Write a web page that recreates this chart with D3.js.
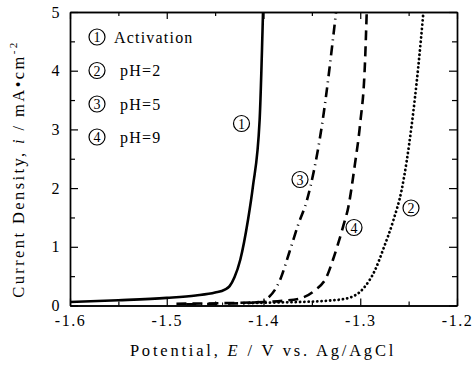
<!DOCTYPE html>
<html><head><meta charset="utf-8">
<script src="https://cdn.jsdelivr.net/npm/d3@7"></script>
<style>
body{margin:0;background:#fff;}
svg text{font-family:"Liberation Serif","Times New Roman",serif;fill:#000;}
</style></head>
<body><svg id="c" width="472" height="370"></svg>
<script>
// ---- data ----
const xTicks = [-1.6, -1.5, -1.4, -1.3, -1.2];
const xTickLabels = ["-1.6", "-1.5", "-1.4", "-1.3", "-1.2"];
const yTicks = [0, 1, 2, 3, 4, 5];
const yTickLabels = ["0", "1", "2", "3", "4", "5"];

const activationE = [-1.6, -1.55, -1.5, -1.47, -1.45, -1.44, -1.435, -1.43, -1.424, -1.416, -1.411, -1.404, -1.4005];
const activationI = [0.06, 0.09, 0.13, 0.17, 0.22, 0.27, 0.33, 0.48, 0.78, 1.46, 2.02, 3.16, 5.0];

const pH2E = [-1.42, -1.39, -1.3623, -1.335, -1.314, -1.2968, -1.2848, -1.2762, -1.2658, -1.2572, -1.2468, -1.24, -1.2347];
const pH2I = [0.04, 0.05, 0.06, 0.08, 0.12, 0.29, 0.60, 0.96, 1.45, 1.97, 3.08, 4.07, 5.0];

const pH5E = [-1.48, -1.44, -1.41, -1.40, -1.3953, -1.383, -1.3736, -1.3643, -1.355, -1.3396, -1.325];
const pH5I = [0.02, 0.03, 0.05, 0.08, 0.13, 0.43, 0.89, 1.37, 1.80, 3.07, 5.0];

const pH9E = [-1.49, -1.44, -1.40, -1.38, -1.3623, -1.3468, -1.3347, -1.3282, -1.3178, -1.3123, -1.3054, -1.3003, -1.295, -1.2933];
const pH9I = [0.03, 0.04, 0.06, 0.08, 0.12, 0.26, 0.49, 0.78, 1.34, 1.68, 2.42, 3.07, 4.18, 5.0];

const legendNums = ["1", "2", "3", "4"];
const legendTexts = ["Activation", "pH=2", "pH=5", "pH=9"];

// ---- layout ----
const SERIF = "Liberation Serif, Times New Roman, serif";
const svg = d3.select("#c");
const L = 70, R = 457, T = 12, B = 305.5;
const x = d3.scaleLinear().domain([-1.6, -1.2]).range([L, R]);
const y = d3.scaleLinear().domain([0, 5]).range([B, T]);

const series = [
  {E: activationE, I: activationI, dash: null, cap: "butt", w: 2.6},
  {E: pH2E, I: pH2I, dash: "0.1,4.2", cap: "round", w: 2.8},
  {E: pH5E, I: pH5I, dash: "10,5,1,5", cap: "butt", w: 2.6},
  {E: pH9E, I: pH9I, dash: "10,6", cap: "butt", w: 2.6}
];

svg.append("clipPath").attr("id","clip").append("rect")
  .attr("x", L).attr("y", T).attr("width", R-L).attr("height", B-T);

const line = d3.line().x(d=>x(d[0])).y(d=>y(d[1])).curve(d3.curveMonotoneX);
const g = svg.append("g").attr("clip-path","url(#clip)");
series.forEach(s=>{
  const pts = s.E.map((e,i)=>[e, s.I[i]]);
  g.append("path").attr("d", line(pts)).attr("fill","none").attr("stroke","#000")
    .attr("stroke-width", s.w).attr("stroke-linecap", s.cap)
    .attr("stroke-dasharray", s.dash);
});

// ---- axes ----
const minorX = d3.range(-1.6, -1.2001, 0.05).map(v=>+v.toFixed(3)).filter(v=>!xTicks.some(t=>Math.abs(t-v)<1e-6));
const minorY = [0.5,1.5,2.5,3.5,4.5];
const fontT = 16;

function styleAxis(sel){
  sel.attr("font-family", SERIF);
  sel.select(".domain").attr("stroke","#000").attr("stroke-width",1.4);
  sel.selectAll(".tick line").attr("stroke","#000").attr("stroke-width",1.2);
  sel.selectAll("text").attr("font-size", fontT).attr("letter-spacing","1.5px")
    .attr("font-family", SERIF);
}

const xb = svg.append("g").attr("transform",`translate(0,${B})`)
  .call(d3.axisBottom(x).tickValues(xTicks).tickFormat((d,i)=>xTickLabels[i]).tickSizeInner(-7).tickSizeOuter(0).tickPadding(9));
styleAxis(xb);
svg.append("g").attr("transform",`translate(0,${B})`)
  .call(d3.axisBottom(x).tickValues(minorX).tickFormat("").tickSizeInner(-4).tickSizeOuter(0)).call(styleAxis);
svg.append("g").attr("transform",`translate(0,${T})`)
  .call(d3.axisTop(x).tickValues(xTicks).tickFormat("").tickSizeInner(-7).tickSizeOuter(0)).call(styleAxis);
svg.append("g").attr("transform",`translate(0,${T})`)
  .call(d3.axisTop(x).tickValues(minorX).tickFormat("").tickSizeInner(-4).tickSizeOuter(0)).call(styleAxis);

const yl = svg.append("g").attr("transform",`translate(${L},0)`)
  .call(d3.axisLeft(y).tickValues(yTicks).tickFormat((d,i)=>yTickLabels[i]).tickSizeInner(-8).tickSizeOuter(0).tickPadding(9));
styleAxis(yl);
svg.append("g").attr("transform",`translate(${L},0)`)
  .call(d3.axisLeft(y).tickValues(minorY).tickFormat("").tickSizeInner(-5).tickSizeOuter(0)).call(styleAxis);
svg.append("g").attr("transform",`translate(${R},0)`)
  .call(d3.axisRight(y).tickValues(yTicks).tickFormat("").tickSizeInner(-8).tickSizeOuter(0)).call(styleAxis);
svg.append("g").attr("transform",`translate(${R},0)`)
  .call(d3.axisRight(y).tickValues(minorY).tickFormat("").tickSizeInner(-5).tickSizeOuter(0)).call(styleAxis);

// ---- axis titles ----
const xt = svg.append("text").attr("x", 263).attr("y", 356).attr("text-anchor","middle")
  .attr("font-family", SERIF).attr("font-size", 16.5).attr("letter-spacing","2.8px");
xt.append("tspan").text("Potential, ");
xt.append("tspan").attr("font-style","italic").text("E");
xt.append("tspan").text(" / V vs. Ag/AgCl");

const yt = svg.append("text").attr("transform",`translate(24,169) rotate(-90)`)
  .attr("text-anchor","middle").attr("font-family", SERIF).attr("font-size", 16.5).attr("letter-spacing","2.4px");
yt.append("tspan").text("Current Density, ");
yt.append("tspan").attr("font-style","italic").text("i");
yt.append("tspan").text(" / mA\u2022cm");
yt.append("tspan").attr("font-size", 11).attr("dy", -7).text("-2");

// ---- circled labels ----
function circled(cx, cy, num){
  svg.append("circle").attr("cx",cx).attr("cy",cy).attr("r",8).attr("fill","#fff")
    .attr("stroke","#000").attr("stroke-width",1.2);
  svg.append("text").attr("x",cx).attr("y",cy+5).attr("text-anchor","middle")
    .attr("font-size",14).attr("font-family","Liberation Sans, Arial, sans-serif").text(num);
}
const legY = [37, 70.5, 104, 137];
legendNums.forEach((n,i)=>{
  circled(97, legY[i], n);
  svg.append("text").attr("x", i===0 ? 114 : 120).attr("y", legY[i]+5.5)
    .attr("font-family", SERIF).attr("font-size",16).attr("letter-spacing","1.2px").text(legendTexts[i]);
});
// labels on curves
const onCurve = [[241.5,123.5,"1"],[411,208,"2"],[300,179.5,"3"],[354,227.5,"4"]];
onCurve.forEach(d=>circled(d[0], d[1], d[2]));
</script></body></html>
